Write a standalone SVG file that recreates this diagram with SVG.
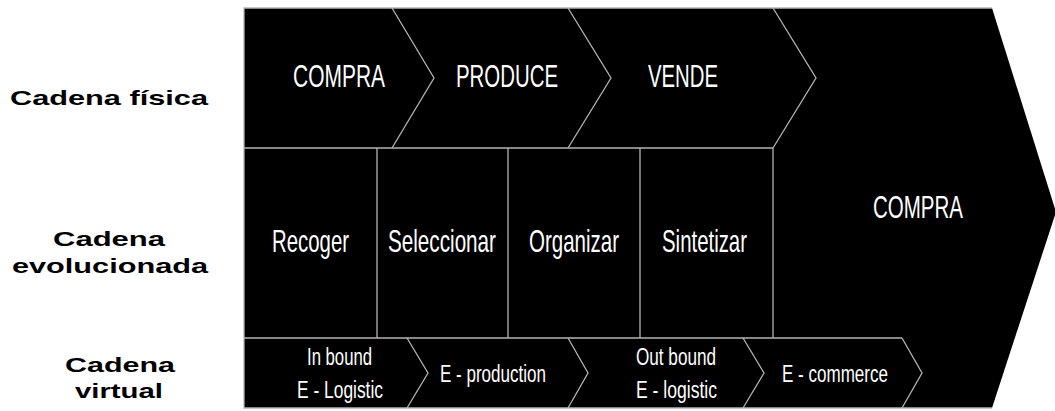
<svg xmlns="http://www.w3.org/2000/svg" width="1055" height="411" viewBox="0 0 1055 411">
<style>
.ln{fill:none;stroke:#b4b4b4;stroke-width:1.3}
.w{fill:#fff;font-family:"Liberation Sans Narrow","Liberation Sans",Arial,sans-serif;text-anchor:start}
.big{font-size:23px}
.sm{font-size:18px}
.lab{fill:#000;font-family:"Liberation Sans",Arial,sans-serif;font-weight:bold;font-size:21px;text-anchor:start}
</style>
<rect width="1055" height="411" fill="#fff"/>
<g id="shape">
<polygon points="244,8 992,8 1056,212 992,408 244,408" fill="#000"/>
</g>
<g id="connectors">
<polyline class="ln" points="992,8 244,8 244,408 992,408"/>
<line class="ln" x1="244" y1="148" x2="773" y2="148"/>
<line class="ln" x1="244" y1="338" x2="902" y2="338"/>
<polyline class="ln" points="392,8 434,78 392,148"/>
<polyline class="ln" points="568,8 611,78 568,148"/>
<polyline class="ln" points="773,8 816,78 773,148"/>
<line class="ln" x1="377" y1="148" x2="377" y2="338"/>
<line class="ln" x1="508" y1="148" x2="508" y2="338"/>
<line class="ln" x1="640" y1="148" x2="640" y2="338"/>
<line class="ln" x1="773" y1="148" x2="773" y2="338"/>
<polyline class="ln" points="407,338 428,373 407,408"/>
<polyline class="ln" points="568,338 588,373 568,408"/>
<polyline class="ln" points="743,338 764,373 743,408"/>
<polyline class="ln" points="902,338 922,373 902,408"/>
</g>
<g id="labels">
<text class="lab" x="10" y="105" textLength="198" lengthAdjust="spacingAndGlyphs">Cadena física</text>
<text class="lab" x="53" y="246" textLength="112" lengthAdjust="spacingAndGlyphs">Cadena</text>
<text class="lab" x="12" y="273" textLength="196" lengthAdjust="spacingAndGlyphs">evolucionada</text>
<text class="lab" x="65" y="372" textLength="110" lengthAdjust="spacingAndGlyphs">Cadena</text>
<text class="lab" x="75" y="398" textLength="88" lengthAdjust="spacingAndGlyphs">virtual</text>
</g>
<g id="fisica">
<text class="w big" transform="translate(293,87) scale(1,1.35)" x="0" y="0" textLength="92" lengthAdjust="spacingAndGlyphs">COMPRA</text>
<text class="w big" transform="translate(456,87) scale(1,1.35)" x="0" y="0" textLength="102" lengthAdjust="spacingAndGlyphs">PRODUCE</text>
<text class="w big" transform="translate(648,87) scale(1,1.35)" x="0" y="0" textLength="70" lengthAdjust="spacingAndGlyphs">VENDE</text>
</g>
<g id="evolucionada">
<text class="w big" transform="translate(272,252) scale(1,1.35)" x="0" y="0" textLength="77" lengthAdjust="spacingAndGlyphs">Recoger</text>
<text class="w big" transform="translate(388,252) scale(1,1.35)" x="0" y="0" textLength="108" lengthAdjust="spacingAndGlyphs">Seleccionar</text>
<text class="w big" transform="translate(529,252) scale(1,1.35)" x="0" y="0" textLength="90" lengthAdjust="spacingAndGlyphs">Organizar</text>
<text class="w big" transform="translate(662,252) scale(1,1.35)" x="0" y="0" textLength="85" lengthAdjust="spacingAndGlyphs">Sintetizar</text>
</g>
<g id="compra2">
<text class="w big" transform="translate(873,218) scale(1,1.35)" x="0" y="0" textLength="90" lengthAdjust="spacingAndGlyphs">COMPRA</text>
</g>
<g id="virtual">
<text class="w sm" transform="translate(307,365) scale(1,1.28)" x="0" y="0" textLength="65" lengthAdjust="spacingAndGlyphs">In bound</text>
<text class="w sm" transform="translate(297,398) scale(1,1.28)" x="0" y="0" textLength="86" lengthAdjust="spacingAndGlyphs">E - Logistic</text>
<text class="w sm" transform="translate(440,382) scale(1,1.28)" x="0" y="0" textLength="106" lengthAdjust="spacingAndGlyphs">E - production</text>
<text class="w sm" transform="translate(636,365) scale(1,1.28)" x="0" y="0" textLength="80" lengthAdjust="spacingAndGlyphs">Out bound</text>
<text class="w sm" transform="translate(636,398) scale(1,1.28)" x="0" y="0" textLength="81" lengthAdjust="spacingAndGlyphs">E - logistic</text>
<text class="w sm" transform="translate(782,382) scale(1,1.28)" x="0" y="0" textLength="106" lengthAdjust="spacingAndGlyphs">E - commerce</text>
</g>
</svg>
